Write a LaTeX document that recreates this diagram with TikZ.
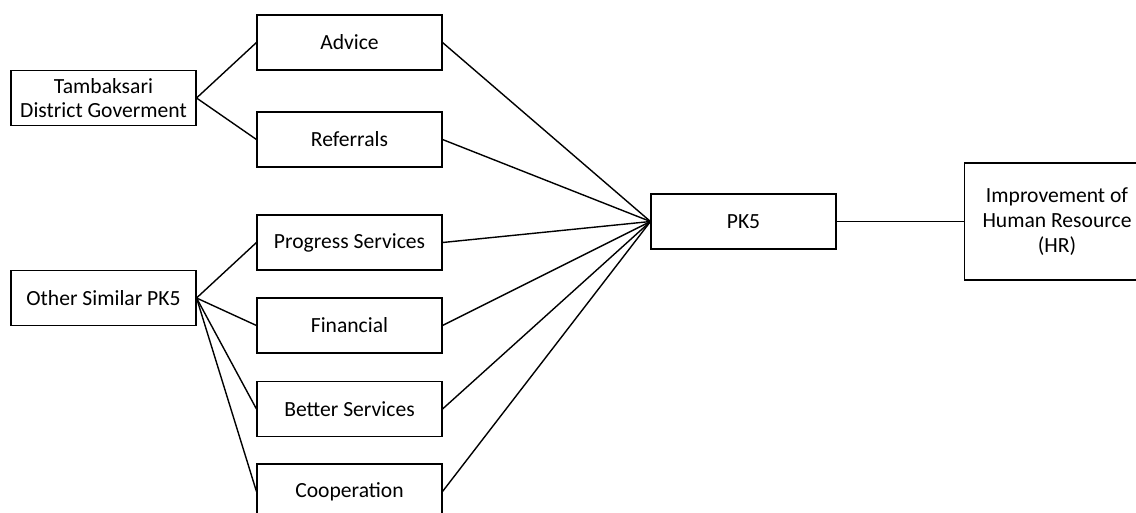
\documentclass[tikz,border=0pt]{standalone}
\usepackage{fontspec}
\setmainfont{Carlito}
\begin{document}
\begin{tikzpicture}[x=0.75pt,y=-0.75pt,
  box/.style={draw=black,line width=0.8pt,fill=white,minimum width=138.75pt,minimum height=41.25pt,inner sep=0pt,align=center,font=\fontsize{16.2pt}{18.5pt}\selectfont},
  tallbox/.style={box,minimum height=87.75pt},
  link/.style={draw=black,line width=1.05pt}]
\useasboundingbox (0,0) rectangle (1136,512);
\node[box] (tam) at (103.5,98) {Tambaksari\\District Goverment};
\node[box] (oth) at (103.5,298) {Other Similar PK5};
\node[box] (adv) at (349.5,42.5) {Advice};
\node[box] (ref) at (349.5,139.5) {Referrals};
\node[box] (pro) at (349.5,242.5) {Progress Services};
\node[box] (fin) at (349.5,325.5) {Financial};
\node[box] (bet) at (349.5,409) {Better Services};
\node[box] (coo) at (349.5,491.5) {Cooperation};
\node[box] (pk5) at (743.5,221.5) {PK5};
\node[tallbox] (imp) at (1057,221.5) {Improvement of\\Human Resource\\(HR)};
\foreach \t in {adv,ref}{\draw[link] (tam.east) -- (\t.west);}
\foreach \t in {pro,fin,bet,coo}{\draw[link] (oth.east) -- (\t.west);}
\foreach \t in {adv,ref,pro,fin,bet,coo}{\draw[link] (\t.east) -- (pk5.west);}
\draw[link] (pk5.east) -- (imp.west);
\end{tikzpicture}
\end{document}
